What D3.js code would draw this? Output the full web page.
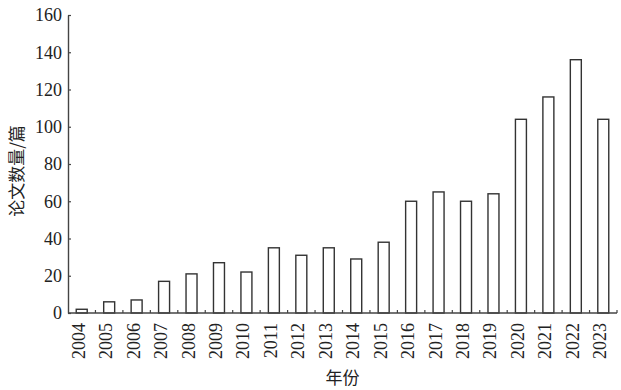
<!DOCTYPE html>
<html>
<head>
<meta charset="utf-8">
<script src="https://cdn.jsdelivr.net/npm/d3@7"></script>
<style>
  body { margin: 0; background: #fff; }
  text { fill: #222; }
</style>
</head>
<body>
<script>
'use strict';

// chart data
const years = ["2004","2005","2006","2007","2008","2009","2010","2011","2012","2013",
               "2014","2015","2016","2017","2018","2019","2020","2021","2022","2023"];
const papers = [2, 6, 7, 17, 21, 27, 22, 35, 31, 35, 29, 38, 60, 65, 60, 64, 104, 116, 136, 104];
const yTicks = [0, 20, 40, 60, 80, 100, 120, 140, 160];

(function() {
  const width = 621, height = 390;
  const margin = {left: 68, right: 4, top: 15, bottom: 77};

  const svg = d3.select('body')
    .append('svg')
    .attr('width', width)
    .attr('height', height);

  const x = d3.scaleBand()
    .domain(years)
    .range([margin.left, width - margin.right])
    .paddingInner(0.6)
    .paddingOuter(0.3);

  const y = d3.scaleLinear()
    .domain([0, 160])
    .range([height - margin.bottom, margin.top]);

  const serif = '"Liberation Serif", "Times New Roman", serif';
  const cjk = '"Noto Sans CJK SC", sans-serif';
  const axisColor = '#444';

  // bars
  svg.selectAll('.bar')
    .data(papers)
    .enter()
    .append('rect')
    .attr('class', 'bar')
    .attr('x', (d, i) => x(years[i]))
    .attr('y', d => y(d))
    .attr('width', x.bandwidth())
    .attr('height', d => y(0) - y(d))
    .attr('fill', '#fff')
    .attr('stroke', '#333')
    .attr('stroke-width', 1.4);

  // y axis, ticks pointing inward
  const yAxis = d3.axisLeft(y).tickValues(yTicks).tickSizeInner(-3).tickSizeOuter(0).tickPadding(6);
  const gy = svg.append('g')
    .attr('transform', 'translate(' + margin.left + ',0)')
    .call(yAxis);
  gy.select('.domain').attr('stroke', axisColor).attr('stroke-width', 1.4);
  gy.selectAll('.tick line').attr('stroke', axisColor).attr('stroke-width', 1.2);
  gy.selectAll('.tick text')
    .style('font-family', serif)
    .style('font-size', '18px')
    .attr('fill', '#222');

  // x axis line and boundary ticks between categories
  const x0 = margin.left, x1 = width - margin.right;
  svg.append('line')
    .attr('x1', x0).attr('x2', x1)
    .attr('y1', y(0)).attr('y2', y(0))
    .attr('stroke', axisColor).attr('stroke-width', 1.4);

  const step = x.step();
  const bounds = years.slice(1).map(yr => x(yr) - step * x.paddingInner() / 2);
  bounds.push(x1);
  svg.selectAll('.xtick')
    .data(bounds)
    .enter()
    .append('line')
    .attr('x1', d => d).attr('x2', d => d)
    .attr('y1', y(0)).attr('y2', y(0) - 3)
    .attr('stroke', axisColor).attr('stroke-width', 1.2);

  // rotated year labels
  svg.selectAll('.xlabel')
    .data(years)
    .enter()
    .append('text')
    .attr('transform', d => 'translate(' + (x(d) + x.bandwidth() / 2 + 3) + ',' + (y(0) + 10) + ') rotate(-90)')
    .attr('text-anchor', 'end')
    .style('font-family', serif)
    .style('font-size', '18px')
    .text(d => d);

  // axis titles
  svg.append('text')
    .attr('transform', 'translate(23,' + 171 + ') rotate(-90)')
    .attr('text-anchor', 'middle')
    .style('font-family', cjk)
    .style('font-size', '17px')
    .text('论文数量/篇');

  svg.append('text')
    .attr('x', (x0 + x1) / 2)
    .attr('y', 384)
    .attr('text-anchor', 'middle')
    .style('font-family', cjk)
    .style('font-size', '17px')
    .text('年份');
})();
</script>
</body>
</html>
